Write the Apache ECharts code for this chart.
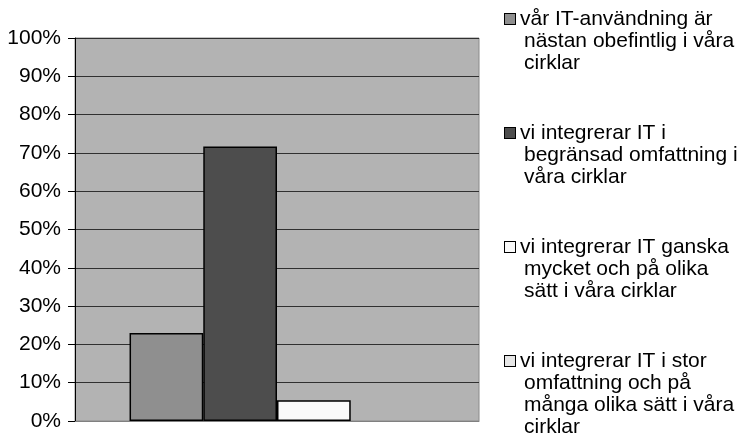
<!DOCTYPE html>
<html>
<head>
<meta charset="utf-8">
<script src="https://cdn.jsdelivr.net/npm/echarts@6/dist/echarts.min.js"></script>
<style>
  html, body { margin: 0; padding: 0; background: #fff; }
  #main { width: 743px; height: 444px; }
</style>
</head>
<body>
<div id="main"></div>
<script>
var categories = [''];
var seriesNames = [
    'vår IT-användning är\nnästan obefintlig i våra\ncirklar',
    'vi integrerar IT i\nbegränsad omfattning i\nvåra cirklar',
    'vi integrerar IT ganska\nmycket och på olika\nsätt i våra cirklar',
    'vi integrerar IT i stor\nomfattning och på\nmånga olika sätt i våra\ncirklar'
];
var seriesValues = [[23], [71.7], [5.4], [0]];
var barColors = ['#8f8f8f', '#4d4d4d', '#fafafa', '#e6e6e6'];
var yTicks = [0, 10, 20, 30, 40, 50, 60, 70, 80, 90, 100];

var fontFamily = '"Liberation Sans", Arial, sans-serif';

// legend: marker box on first line, following lines indented
var rich = {
    g: { width: 5 },
    s: { width: 19 },
    t: { fontSize: 21, fontFamily: fontFamily, color: '#000', lineHeight: 22 }
};
seriesNames.forEach(function (n, i) {
    rich['m' + i] = {
        width: 10, height: 10, backgroundColor: barColors[i],
        borderColor: '#000', borderWidth: 1
    };
});

function legendFormatter(name) {
    var idx = seriesNames.indexOf(name);
    var lines = name.split('\n');
    return lines.map(function (l, k) {
        if (k === 0) return '{m' + idx + '| }{g| }{t|' + l + '}';
        return '{s| }{t|' + l + '}';
    }).join('\n');
}

var series = [];
seriesNames.forEach(function (n, i) {
    series.push({
        name: n,
        type: 'bar',
        data: seriesValues[i].map(function (v) {
            // a zero bar leaves no outline
            return v === 0 ? { value: v, itemStyle: { borderWidth: 0 } } : v;
        }),
        barGap: '0%',
        barCategoryGap: '27%',
        itemStyle: { color: barColors[i], borderColor: '#000', borderWidth: 1.5 }
    });
});

var myChart = echarts.init(document.getElementById('main'), null, { renderer: 'canvas' });
var option = {
    animation: false,
    backgroundColor: '#fff',
    textStyle: { fontFamily: fontFamily },
    grid: {
        left: 75, right: 264, top: 38, bottom: 23,
        show: true, backgroundColor: '#b3b3b3', borderColor: '#8a8a8a', borderWidth: 1
    },
    legend: {
        orient: 'vertical',
        left: 495,
        top: 3,
        height: 460,
        padding: 5,
        icon: 'none',
        itemWidth: 0,
        itemHeight: 0,
        itemGap: 48,
        selectedMode: false,
        data: seriesNames,
        formatter: legendFormatter,
        textStyle: { fontSize: 21, fontFamily: fontFamily, color: '#000', lineHeight: 22, rich: rich }
    },
    xAxis: {
        type: 'category',
        data: categories,
        axisLine: { lineStyle: { color: '#808080', width: 1 } },
        axisTick: { show: false },
        axisLabel: { show: false }
    },
    yAxis: {
        type: 'value',
        min: yTicks[0],
        max: yTicks[yTicks.length - 1],
        interval: 10,
        axisLine: { show: true, lineStyle: { color: '#000', width: 1 } },
        axisTick: { show: true, length: 7, lineStyle: { color: '#000' } },
        axisLabel: {
            formatter: '{value}%', fontSize: 21, color: '#000', margin: 14,
            fontFamily: fontFamily
        },
        splitLine: { lineStyle: { color: '#303030', width: 1 } }
    },
    series: series
};
myChart.setOption(option);
</script>
</body>
</html>
